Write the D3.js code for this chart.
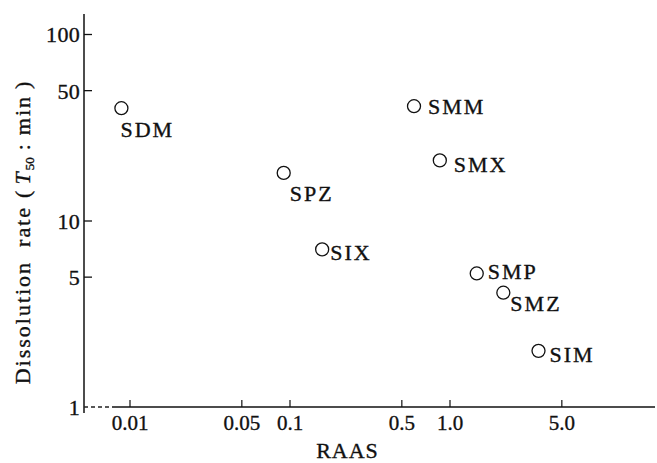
<!DOCTYPE html>
<html><head><meta charset="utf-8">
<script src="https://cdn.jsdelivr.net/npm/d3@7"></script>
<style>
html,body{margin:0;padding:0;background:#fff;}
svg text{font-family:"Liberation Serif","Times New Roman",serif;fill:#111;stroke:#111;stroke-width:0.35px;}
</style></head>
<body><svg id="c" width="657" height="463"></svg>
<script>
// ---- data ----
const drugs = ["SDM","SPZ","SIX","SMM","SMX","SMP","SMZ","SIM"];
const raas  = [0.0089, 0.092, 0.16, 0.60, 0.87, 1.48, 2.17, 3.6];
const t50   = [40, 18, 7.0, 41, 21, 5.2, 4.1, 2.0];
const xTicks = [0.01, 0.05, 0.1, 0.5, 1, 5];
const xTickLabels = ["0.01","0.05","0.1","0.5","1.0","5.0"];
const yTicks = [1, 5, 10, 50, 100];
const yTickLabels = ["1","5","10","50","100"];
// label offsets (layout only)
const labelDx = [-1, 6, 8, 14, 14, 11, 7, 11];
const labelDy = [29, 28, 11, 8, 12, 6, 18, 11];

const svg = d3.select("#c");
const x = d3.scaleLog().domain([0.01, 10]).range([129.5, 609.5]);
const y = d3.scaleLog().domain([1, 100]).range([407, 34]);
const axX = 84, axY = 407;

// axes lines
svg.append("line").attr("x1", axX).attr("x2", axX).attr("y1", 14).attr("y2", 413)
  .attr("stroke", "#111").attr("stroke-width", 1.5);
svg.append("line").attr("x1", axX).attr("x2", 112).attr("y1", axY).attr("y2", axY)
  .attr("stroke", "#222").attr("stroke-width", 1.3).attr("stroke-dasharray", "4,3");
svg.append("line").attr("x1", 112).attr("x2", 655).attr("y1", axY).attr("y2", axY)
  .attr("stroke", "#111").attr("stroke-width", 1.4);

// y axis
const yAxis = d3.axisRight(y).tickValues(yTicks).tickSize(8)
  .tickFormat((d, i) => yTickLabels[i]);
const gy = svg.append("g").attr("transform", `translate(${axX},0)`).call(yAxis);
gy.select(".domain").remove();
gy.selectAll(".tick line").attr("stroke", "#111").attr("stroke-width", 1.3);
gy.selectAll(".tick text").attr("x", -4).attr("dy", "0.36em").attr("text-anchor", "end")
  .style("font-size", "22px").style("letter-spacing", "0.3px");
gy.selectAll(".tick").filter(d => d === 1).select("line").remove();

// x axis
const xAxis = d3.axisTop(x).tickValues(xTicks).tickSize(7)
  .tickFormat((d, i) => xTickLabels[i]);
const gx = svg.append("g").attr("transform", `translate(0,${axY})`).call(xAxis);
gx.select(".domain").remove();
gx.selectAll(".tick line").attr("stroke", "#111").attr("stroke-width", 1.2);
gx.selectAll(".tick text").attr("y", 23).attr("dy", 0).attr("text-anchor", "middle")
  .style("font-size", "21px");

// axis titles
svg.append("text").attr("x", 347.5).attr("y", 458).attr("text-anchor", "middle")
  .style("font-size", "22px").style("letter-spacing", "1px").text("RAAS");

const yl = svg.append("text")
  .attr("transform", "translate(30,232) rotate(-90)")
  .attr("text-anchor", "middle").style("font-size", "22px").style("letter-spacing", "2px");
yl.append("tspan").text("Dissolution");
yl.append("tspan").attr("dx", 14).text("rate");
yl.append("tspan").attr("dx", 8).text("(");
yl.append("tspan").attr("dx", 4).style("font-style", "italic").text("T");
yl.append("tspan").attr("dy", 4).style("font-size", "13px").style("letter-spacing", "0px").text("50");
yl.append("tspan").attr("dy", -4).attr("dx", 7).text(":");
yl.append("tspan").attr("dx", 7).text("min");
yl.append("tspan").attr("dx", 6).text(")");

// points
const pts = svg.append("g");
pts.selectAll("circle").data(drugs).join("circle")
  .attr("cx", (d, i) => x(raas[i])).attr("cy", (d, i) => y(t50[i])).attr("r", 6.5)
  .attr("fill", "none").attr("stroke", "#111").attr("stroke-width", 1.3);
pts.selectAll("text").data(drugs).join("text")
  .attr("x", (d, i) => x(raas[i]) + labelDx[i]).attr("y", (d, i) => y(t50[i]) + labelDy[i])
  .style("font-size", "22px").style("letter-spacing", "2px").text(d => d);
</script></body></html>
